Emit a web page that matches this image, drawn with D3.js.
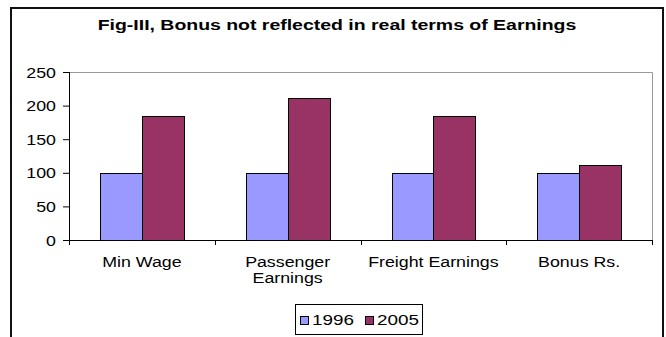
<!DOCTYPE html>
<html><head><meta charset="utf-8">
<script src="https://cdn.jsdelivr.net/npm/d3@7"></script>
<style>body{margin:0;background:#fff}svg{display:block}text{font-family:"Liberation Sans",Arial,sans-serif}</style>
</head><body>
<svg id="c" width="666" height="337"></svg>
<script>
const categories = [["Min Wage"], ["Passenger","Earnings"], ["Freight Earnings"], ["Bonus Rs."]];
const seriesNames = ["1996", "2005"];
const values1996 = [100, 100, 100, 100];
const values2005 = [185, 212, 185, 111];
const yTicks = [0, 50, 100, 150, 200, 250];
const colors = ["#9999FF", "#993366"];

const SX = 1.27; // horizontal stretch of the source picture's text
const svg = d3.select("#c");
// outer chart frame
svg.append("rect").attr("x", 11).attr("y", 8).attr("width", 652).attr("height", 360)
  .attr("fill", "#fff").attr("stroke", "#111").attr("stroke-width", 2);

svg.append("text").attr("transform", "translate(337,29.5) scale(1.39,1)").attr("text-anchor", "middle")
  .attr("font-weight", "bold").attr("font-size", 14).text("Fig-III, Bonus not reflected in real terms of Earnings");

const L = 69, R = 652, T = 72, B = 240;
const x = d3.scaleBand().domain(d3.range(categories.length)).range([L, R]).paddingInner(0).paddingOuter(0);
const y = d3.scaleLinear().domain([0, 250]).range([B, T]);
const inner = d3.scaleBand().domain(d3.range(seriesNames.length)).range([0, x.bandwidth()]).paddingInner(0).paddingOuter(0.75);

// plot area border (gray top/right)
svg.append("path").attr("d", `M${L},${T + 0.5}H${R + 0.5}V${B}`).attr("fill", "none").attr("stroke", "#999").attr("stroke-width", 1);

const series = [values1996, values2005];
series.forEach((vals, si) => {
  svg.append("g").selectAll("rect").data(vals).join("rect")
    .attr("x", (d, i) => Math.round(x(i) + inner(si)) + 0.5)
    .attr("y", d => Math.round(y(d)) + 0.5)
    .attr("width", Math.round(inner.bandwidth()))
    .attr("height", d => Math.round(y(0)) - Math.round(y(d)))
    .attr("fill", colors[si]).attr("stroke", "#000").attr("stroke-width", 1);
});

// y axis
const ya = svg.append("g").attr("transform", `translate(${L},0)`)
  .call(d3.axisLeft(y).tickValues(yTicks).tickSize(6).tickPadding(7));
ya.select(".domain").attr("stroke", "#000").attr("d", `M0.5,${T}V${B}`);
ya.selectAll(".tick line").attr("stroke", "#000");
ya.selectAll(".tick text").attr("font-size", 14).attr("font-family", "Liberation Sans, Arial, sans-serif").attr("fill", "#000")
  .attr("x", null).attr("dy", null)
  .attr("transform", `translate(-13,5) scale(${SX},1)`);

// x axis
const xa = svg.append("g").attr("transform", `translate(0,${B})`);
xa.append("path").attr("d", `M${L-6},0.5H${R+1}`).attr("stroke", "#000").attr("stroke-width", 1);
const edges = d3.range(categories.length + 1).map(i => L + i * x.bandwidth());
xa.selectAll("line.t").data(edges).join("line").attr("class", "t")
  .attr("x1", d => Math.round(d) + 0.5).attr("x2", d => Math.round(d) + 0.5).attr("y1", 0).attr("y2", 5).attr("stroke", "#000");
const lbl = xa.selectAll("text.c").data(categories).join("text").attr("class", "c")
  .attr("transform", (d, i) => `translate(${x(i) + x.bandwidth() / 2},27) scale(${SX},1)`)
  .attr("text-anchor", "middle").attr("font-size", 14);
lbl.selectAll("tspan").data(d => d).join("tspan")
  .attr("x", 0).attr("dy", (d, i) => i === 0 ? 0 : 16).text(d => d);

// legend
const lg = svg.append("g");
lg.append("rect").attr("x", 295.5).attr("y", 304.5).attr("width", 127).attr("height", 30).attr("fill", "#fff").attr("stroke", "#000");
const items = [{ n: seriesNames[0], c: colors[0], x: 300 }, { n: seriesNames[1], c: colors[1], x: 365 }];
items.forEach(it => {
  lg.append("rect").attr("x", it.x + 0.5).attr("y", 316.5).attr("width", 8).attr("height", 8).attr("fill", it.c).attr("stroke", "#000");
  lg.append("text").attr("transform", `translate(${it.x + 12},325) scale(1.35,1)`).attr("font-size", 14).text(it.n);
});
</script>
</body></html>
